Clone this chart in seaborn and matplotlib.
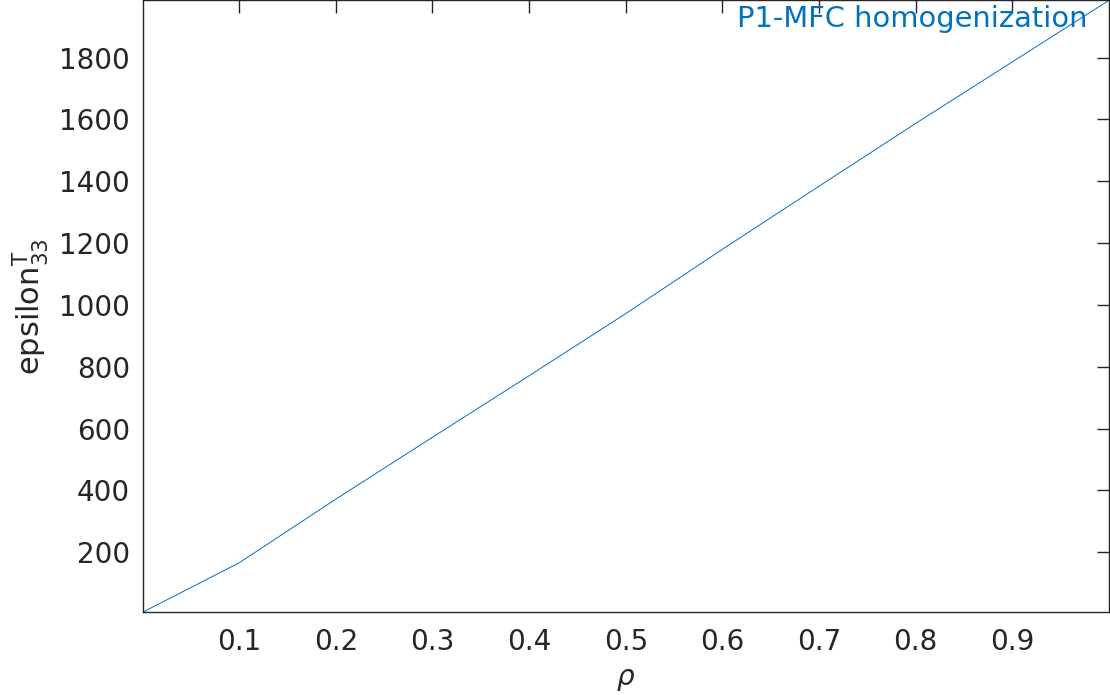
import numpy as np
import pandas as pd
import matplotlib
matplotlib.use("Agg")
import matplotlib.pyplot as plt
import seaborn as sns

# valores
rho = [0.0, 0.1, 0.2, 0.3, 0.4, 0.5, 0.6, 0.7, 0.8, 0.9, 1.0]
eps33 = [6, 166, 372, 572, 771, 972, 1180, 1384, 1587, 1786, 1985]
x_ticks = [0.1, 0.2, 0.3, 0.4, 0.5, 0.6, 0.7, 0.8, 0.9]
y_ticks = [200, 400, 600, 800, 1000, 1200, 1400, 1600, 1800]
label_text = "P1-MFC homogenization"

df = pd.DataFrame({"rho": rho, "eps33": eps33})

sns.set_theme(style="white")
plt.rcParams["font.family"] = ["DejaVu Sans"]
plt.rcParams["mathtext.fontset"] = "dejavusans"

gray = "#262626"
blue = "#0072BD"

fig = plt.figure(figsize=(11.10, 6.95), dpi=100)
ax = fig.add_axes([0.1284, 0.119, 0.8707, 0.8805])

sns.lineplot(data=df, x="rho", y="eps33", ax=ax, color=blue, linewidth=0.7)

ax.set_xlim(min(rho), max(rho))
ax.set_ylim(min(eps33), max(eps33))
ax.set_xticks(x_ticks)
ax.set_xticklabels([f"{t:.1f}" for t in x_ticks])
ax.set_yticks(y_ticks)
ax.set_yticklabels([str(t) for t in y_ticks])

ax.tick_params(axis="both", direction="in", length=9, width=1, colors=gray,
               labelsize=20, top=True, right=True)
ax.tick_params(axis="x", pad=11)
ax.tick_params(axis="y", pad=9)
for s in ax.spines.values():
    s.set_color(gray)
    s.set_linewidth(1)
    s.set_visible(True)

ax.set_xlabel(r"$\rho$", fontsize=20, color=gray, labelpad=7)
ax.set_ylabel(r"epsilon$\mathregular{^T_{33}}$", fontsize=22, color=gray, labelpad=6)

ax.text(0.9775, 0.97, label_text, transform=ax.transAxes, ha="right", va="center",
        fontsize=20.8, color=blue)

fig.savefig("out.png", dpi=100)
